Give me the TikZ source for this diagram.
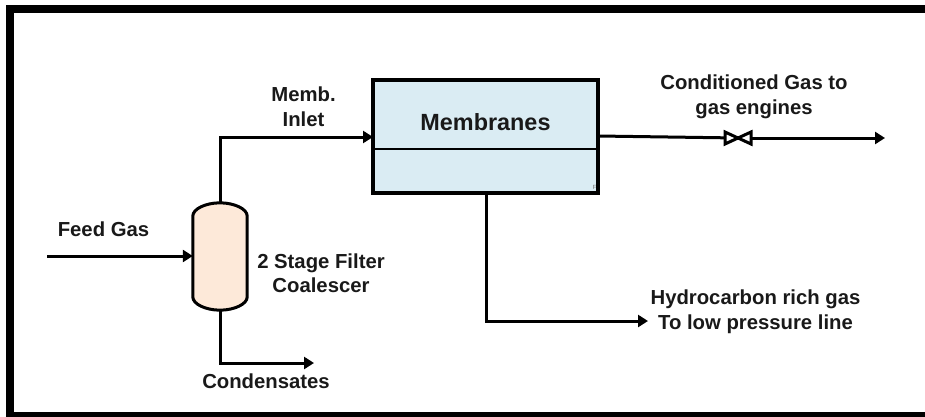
\documentclass[tikz,border=0pt]{standalone}
\usepackage{fontspec}
\setmainfont{Liberation Sans}
\usetikzlibrary{arrows.meta}
\definecolor{memfill}{HTML}{DAECF3}
\definecolor{coalfill}{HTML}{FDE9D9}
\tikzset{
  pipe/.style={draw=black,line width=3pt},
  flow/.style={pipe,-{Triangle[length=10pt,width=12pt]}},
  lbl/.style={font=\bfseries\fontsize{20.3}{24.5}\selectfont,align=center,inner sep=0pt,text=black!90},
  valvebody/.style={draw=black,line width=3pt,fill=white,line join=miter},
}
\begin{document}
\begin{tikzpicture}[x=1pt,y=-1pt]
\useasboundingbox (0,0) rectangle (925,417);
% frame
\fill[black] (6,5) rectangle (925,13);
\fill[black] (6,5) rectangle (14,417);
\fill[black] (6,412) rectangle (925,417);
% anchors
\coordinate (feedstart) at (47,256);
\coordinate (inletbend) at (220,137);
\coordinate (condbend) at (220,363);
\coordinate (condend) at (314,363);
\coordinate (hcbend) at (486,321);
\coordinate (hcend) at (648,321);
\coordinate (gasend) at (885,138);
\coordinate (memout) at (598,136);
\coordinate (memin) at (373,137);
\coordinate (memdown) at (486,193);
\coordinate (valve) at (738,138);
% membranes
\node[draw=black,line width=3.5pt,fill=memfill,minimum width=225pt,minimum height=113pt,inner sep=0pt] (mem) at (485.5,136.5) {};
\coordinate (divL) at (373,149);
\coordinate (divR) at (598,149);
\draw[line width=1.3pt] (divL) -- (divR);
\node[lbl,font=\bfseries\fontsize{23.4}{26}\selectfont] (memtxt) at (485.5,122) {Membranes};
\node[font=\fontsize{6}{6}\selectfont,text=black!55,inner sep=0pt] (memmark) at (594.5,187) {F};
% coalescer vessel
\node[minimum width=54pt,minimum height=107pt,inner sep=0pt] (coal) at (220,256.5) {};
\draw[pipe,fill=coalfill]
  (coal.west |- 0,216) .. controls (193,209) and (205,203) .. (coal.north)
  .. controls (235,203) and (247,209) .. (coal.east |- 0,216)
  -- (coal.east |- 0,297) .. controls (247,304) and (235,310) .. (coal.south)
  .. controls (205,310) and (193,304) .. (coal.west |- 0,297) -- cycle;
% pipes
\draw[flow] (feedstart) -- (feedstart -| coal.west);
\draw[flow] (coal.north) -- (inletbend) -- (memin);
\draw[flow] (coal.south) -- (condbend) -- (condend);
\draw[flow] (memdown) -- (hcbend) -- (hcend);
\draw[pipe] (memout) -- (valve);
\draw[flow] (valve) -- (gasend);
% valve
\draw[valvebody] (725,132) -- (751,144) -- (751,132) -- (725,144) -- cycle;
% labels
\node[lbl] (feedtxt) at (103.5,229) {Feed Gas};
\node[lbl] (inlettxt) at (303.5,106.5) {Memb.\\Inlet};
\node[lbl] (coaltxt) at (321,273) {2 Stage Filter\\Coalescer};
\node[lbl] (condtxt) at (266,381) {Condensates};
\node[lbl] (gastxt) at (754,97) {Conditioned Gas to\\gas engines};
\node[lbl] (hctxt) at (755.5,311.5) {Hydrocarbon rich gas\\To low pressure line};
\end{tikzpicture}
\end{document}
